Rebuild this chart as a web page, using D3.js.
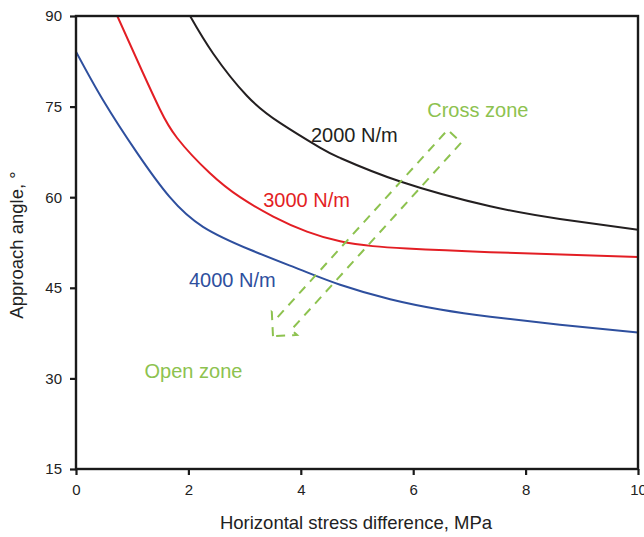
<!DOCTYPE html>
<html>
<head>
<meta charset="utf-8">
<script src="https://cdn.jsdelivr.net/npm/d3@7"></script>
<style>
  html, body { margin: 0; padding: 0; background: #fff; }
  svg { display: block; font-family: "Liberation Sans", Arial, sans-serif; }
</style>
</head>
<body>
<svg id="chart" width="644" height="537"></svg>
<script>
// ---- data ----
const xTicks = [0, 2, 4, 6, 8, 10];
const yTicks = [15, 30, 45, 60, 75, 90];

const seriesNames = ["2000 N/m", "3000 N/m", "4000 N/m"];
const seriesColors = ["#231f20", "#e31e24", "#2e4f9e"];

const x2000 = [2.03, 2.44, 3.04, 3.63, 4.34, 4.70, 5.77, 7.37, 8.61, 10.0];
const y2000 = [90.0, 83.8, 76.8, 72.3, 68.2, 66.5, 62.6, 58.5, 56.4, 54.6];

const x3000 = [0.735, 1.19, 1.49, 1.80, 2.38, 2.92, 3.51, 4.11, 4.70, 5.28, 5.89, 7.37, 10.0];
const y3000 = [90.0, 80.6, 74.6, 69.8, 64.0, 60.0, 56.8, 54.3, 52.7, 51.9, 51.5, 50.9, 50.1];

const x4000 = [0.0, 0.48, 1.09, 1.67, 2.26, 3.10, 3.99, 4.70, 5.59, 6.48, 7.37, 8.61, 10.0];
const y4000 = [84.1, 76.1, 67.3, 60.0, 55.1, 51.3, 48.0, 45.5, 43.1, 41.4, 40.2, 38.9, 37.6];

// annotation anchors (data coordinates)
const labelText = ["2000 N/m", "3000 N/m", "4000 N/m", "Cross zone", "Open zone"];
const labelX = [4.18, 3.33, 2.01, 6.25, 1.22];
const labelY = [69.1, 58.3, 45.1, 73.3, 30.1];
const labelColors = ["#231f20", "#e31e24", "#2e4f9e", "#8dc24f", "#8dc24f"];

const arrowTail = [6.735, 70.1];
const arrowTip = [3.505, 37.0];

// ---- layout ----
const W = 644, H = 537;
const m = { left: 76, top: 16, right: 6, bottom: 68 };
const iw = W - m.left - m.right, ih = H - m.top - m.bottom;

const svg = d3.select("#chart");
const x = d3.scaleLinear().domain([0, 10]).range([0, iw]);
const y = d3.scaleLinear().domain([15, 90]).range([ih, 0]);

const g = svg.append("g").attr("transform", `translate(${m.left},${m.top})`);

g.append("clipPath").attr("id", "clip")
  .append("rect").attr("x", 0).attr("y", 0).attr("width", iw).attr("height", ih);

// curves
const series = [
  { xs: x2000, ys: y2000 },
  { xs: x3000, ys: y3000 },
  { xs: x4000, ys: y4000 }
];
const line = d3.line().x(d => x(d[0])).y(d => y(d[1])).curve(d3.curveNatural);
series.forEach((s, i) => {
  const pts = s.xs.map((v, j) => [v, s.ys[j]]);
  g.append("path").datum(pts)
    .attr("d", line)
    .attr("fill", "none")
    .attr("stroke", seriesColors[i])
    .attr("stroke-width", 2)
    .attr("clip-path", "url(#clip)");
});

// dashed block arrow
(function () {
  const tx = x(arrowTail[0]), ty = y(arrowTail[1]);
  const hx = x(arrowTip[0]), hy = y(arrowTip[1]);
  const L = Math.hypot(tx - hx, ty - hy);
  const dx = (tx - hx) / L, dy = (ty - hy) / L;   // from tip toward tail
  const nx = -dy, ny = dx;                          // perpendicular
  const w = 9.3, hw = 17, hl = 17;
  const P = (s, t) => [hx + dx * s + nx * t, hy + dy * s + ny * t];
  const pts = [
    P(0, 0), P(hl, -hw), P(hl, -w), P(L, -w), P(L, w), P(hl, w), P(hl, hw)
  ];
  g.append("path")
    .attr("d", "M" + pts.map(p => p.join(",")).join("L") + "Z")
    .attr("fill", "none")
    .attr("stroke", "#8dc24f")
    .attr("stroke-width", 2)
    .attr("stroke-dasharray", "9,7");
})();

// axes
const axisColor = "#1a1a1a";
const xAxis = g.append("g").attr("transform", `translate(0,${ih})`)
  .call(d3.axisBottom(x).tickValues(xTicks).tickSize(6).tickPadding(9).tickSizeOuter(0));
const yAxis = g.append("g")
  .call(d3.axisLeft(y).tickValues(yTicks).tickSize(6).tickPadding(8).tickSizeOuter(0));
[xAxis, yAxis].forEach(a => {
  a.select(".domain").remove();
  a.selectAll("line").attr("stroke", axisColor).attr("stroke-width", 2.2);
  a.selectAll("text").attr("fill", "#222").style("font-size", "15px")
    .style("font-family", "'Liberation Sans', Arial, sans-serif");
});

// frame
g.append("rect").attr("x", 0).attr("y", 0).attr("width", iw).attr("height", ih)
  .attr("fill", "none").attr("stroke", axisColor).attr("stroke-width", 2.4);

// labels
labelText.forEach((t, i) => {
  g.append("text")
    .attr("x", x(labelX[i])).attr("y", y(labelY[i]))
    .attr("fill", labelColors[i])
    .style("font-size", "20px")
    .text(t);
});

// axis titles
svg.append("text")
  .attr("x", 356).attr("y", 529)
  .attr("text-anchor", "middle")
  .attr("fill", "#222")
  .style("font-size", "18.5px")
  .text("Horizontal stress difference, MPa");

svg.append("text")
  .attr("transform", "translate(23,245) rotate(-90)")
  .attr("text-anchor", "middle")
  .attr("fill", "#222")
  .style("font-size", "18.5px")
  .text("Approach angle, °");
</script>
</body>
</html>
